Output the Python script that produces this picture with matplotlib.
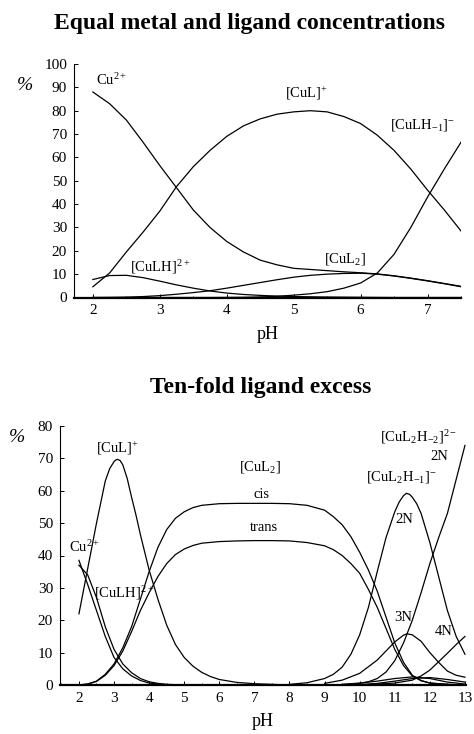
import numpy as np
import matplotlib
matplotlib.use("Agg")
import matplotlib.pyplot as plt
from matplotlib.ticker import MultipleLocator

plt.rcParams['font.family'] = ['Liberation Serif', 'DejaVu Serif']
plt.rcParams['mathtext.fontset'] = 'custom'
plt.rcParams['mathtext.rm'] = 'Liberation Serif'
plt.rcParams['mathtext.it'] = 'Liberation Serif:italic'

# ---------------- Equal metal and ligand concentrations ----------------
ph_top = [2.0, 2.25, 2.5, 2.75, 3.0, 3.25, 3.5, 3.75, 4.0, 4.25, 4.5, 4.75,
          5.0, 5.25, 5.5, 5.75, 6.0, 6.25, 6.5, 6.75, 7.0, 7.25, 7.5]
cu_top = [88, 83, 76, 66.5, 56.5, 47, 37.5, 30, 24, 19.5, 16, 14,
          12.5, 12, 11.5, 11, 10.6, 10.1, 9.3, 8.3, 7.2, 6, 4.8]
cul_top = [4.6, 10.5, 19.5, 28, 37, 47.5, 56, 63, 69, 73.5, 76.5, 78.5,
           79.5, 80, 79.5, 77.5, 74.5, 69.5, 63, 55, 46, 37.5, 28.5]
culh_top = [7.7, 9.4, 9.5, 8.5, 7, 5.4, 4, 2.8, 1.9, 1.3, 0.9, 0.6,
            0.4, 0.3, 0.2, 0.15, 0.1, 0.05, 0, 0, 0, 0, 0]
cul2_top = [0, 0.05, 0.15, 0.4, 0.8, 1.4, 2.1, 2.9, 4, 5.2, 6.4, 7.6,
            8.7, 9.5, 10, 10.3, 10.4, 10, 9.2, 8.2, 7.1, 5.9, 4.6]
culhm1_top = [0, 0, 0, 0, 0, 0, 0, 0, 0.05, 0.1, 0.25, 0.5,
              1, 1.6, 2.5, 4, 6.2, 10.5, 18.5, 30, 43, 55, 66.5]

top_labels = [
    (r'Cu$^{2+}$', 2.05, 93, 'left'),
    (r'[CuL]$^{+}$', 5.19, 87.5, 'center'),
    (r'[CuLH$_{-1}$]$^{-}$', 6.93, 74, 'center'),
    (r'[CuLH]$^{2+}$', 3.01, 13, 'center'),
    (r'[CuL$_{2}$]', 5.77, 16.7, 'center'),
]
top_xticks = [2, 3, 4, 5, 6, 7]
top_yticks = [0, 10, 20, 30, 40, 50, 60, 70, 80, 90, 100]

# ---------------- Ten-fold ligand excess ----------------
ph_cu = [2.0, 2.25, 2.5, 2.75, 3.0, 3.25, 3.5, 3.75, 4.0, 4.25, 4.5, 4.75]
cu_b = [38.5, 31, 23, 15, 8.5, 5, 2.8, 1.4, 0.6, 0.3, 0.1, 0]
culh_b = [37, 34, 27, 18, 11, 6.5, 3.8, 2, 1, 0.5, 0.2, 0.1]

ph_cul = [2.0, 2.25, 2.5, 2.75, 2.875, 3.0, 3.05, 3.1, 3.175, 3.25, 3.375,
          3.5, 3.625, 3.75, 4.0, 4.25, 4.5, 4.75, 5.0, 5.25, 5.5, 5.75,
          6.0, 6.5, 7.0, 7.5, 8.0]
cul_b = [22, 36, 50, 63, 66.8, 69, 69.5, 69.7, 69.3, 68, 63.8,
         58, 52.5, 46.5, 35.5, 26.5, 18.5, 12.5, 8.5, 5.8, 3.9, 2.6,
         1.7, 0.8, 0.4, 0.2, 0]

ph_cul2 = [2.0, 2.25, 2.5, 2.75, 3.0, 3.25, 3.5, 3.75, 4.0, 4.25, 4.5, 4.75,
           5.0, 5.25, 5.5, 6.0, 6.5, 7.0, 7.5, 8.0, 8.5, 9.0, 9.25, 9.5,
           9.75, 10.0, 10.25, 10.5, 10.75, 11.0, 11.25, 11.5, 11.75, 12.0,
           12.5, 13.0]
cis_b = [0, 0.3, 1.2, 3.3, 6.5, 11.5, 18, 26.5, 35, 42.5, 48, 51.5,
         53.5, 54.8, 55.5, 56, 56.1, 56.1, 56.1, 56, 55.5, 54, 52, 49.5,
         45.8, 41, 35.5, 29, 21, 13, 7, 3, 1.4, 0.6,
         0.2, 0]
trans_b = [0, 0.3, 1.1, 3, 6, 10.5, 16.5, 23, 28.5, 33.5, 37.5, 40.3,
           42, 43.1, 43.8, 44.3, 44.5, 44.6, 44.6, 44.5, 44, 43, 41.8, 40,
           37.5, 34.5, 29.5, 24, 17.5, 11, 6, 2.8, 1.3, 0.6,
           0.2, 0]

ph_h1 = [8.0, 8.5, 9.0, 9.25, 9.5, 9.75, 10.0, 10.25, 10.5, 10.75, 11.0,
         11.125, 11.25, 11.33, 11.42, 11.5, 11.625, 11.75, 12.0, 12.25,
         12.5, 12.75, 13.0]
h1_2n = [0.2, 0.7, 2, 3.3, 5.5, 9.5, 15.5, 24, 35, 45.5, 53.5,
         56.5, 58.5, 59.2, 58.9, 58, 56, 53, 44, 33.5,
         23, 15, 9.5]

ph_h2 = [9.5, 10.0, 10.25, 10.5, 10.75, 11.0, 11.25, 11.5, 11.75, 12.0,
         12.25, 12.5, 12.75, 13.0]
h2_2n = [0.1, 0.5, 1, 2, 4, 7.5, 13, 20, 28.5, 37.5,
         45.5, 53, 63.5, 74]

ph_3n = [9.0, 9.5, 10.0, 10.5, 10.75, 11.0, 11.25, 11.35, 11.5, 11.75,
         12.0, 12.25, 12.5, 12.75, 13.0]
h1_3n = [0.5, 1.5, 3.6, 7.7, 10.5, 13.3, 15.4, 15.8, 15.5, 13.5,
         10, 7, 4.3, 3, 2.4]

ph_4n = [10.0, 10.5, 11.0, 11.5, 11.75, 12.0, 12.25, 12.5, 12.75, 13.0]
h1_4n = [0.1, 0.3, 0.6, 1.5, 2.8, 4.6, 7.2, 9.8, 12.5, 15]

ph_minor = [9.5, 10.0, 10.5, 11.0, 11.5, 12.0, 12.5, 13.0]
h2_3n = [0.2, 0.6, 1.2, 2, 2.5, 2, 0.9, 0.3]
h2_4n = [0, 0.1, 0.5, 1.2, 2, 2.3, 1.7, 0.9]

bottom_labels = [
    (r'[CuL]$^{+}$', 3.11, 73.2, 'center'),
    (r'[CuL$_{2}$]', 7.16, 67.3, 'center'),
    ('cis', 7.2, 58.7, 'center'),
    ('trans', 7.27, 48.5, 'center'),
    (r'Cu$^{2+}$', 1.72, 42.6, 'left'),
    (r'[CuLH]$^{2+}$', 3.28, 28.4, 'center'),
    (r'[CuL$_{2}$H$_{-2}$]$^{2-}$', 11.69, 76.6, 'center'),
    ('2N', 12.28, 70.5, 'center'),
    (r'[CuL$_{2}$H$_{-1}$]$^{-}$', 11.2, 64.3, 'center'),
    ('2N', 11.26, 51, 'center'),
    ('3N', 11.23, 20.7, 'center'),
    ('4N', 12.4, 16.4, 'center'),
]
bottom_xticks = [2, 3, 4, 5, 6, 7, 8, 9, 10, 11, 12, 13]
bottom_yticks = [0, 10, 20, 30, 40, 50, 60, 70, 80]

W, H = 474, 734
fig = plt.figure(figsize=(W / 100, H / 100), dpi=100)

LW = 0.9
LABEL_FS = 10.5


def style_axes(ax, xticks, yticks):
    for side in ('top', 'right'):
        ax.spines[side].set_visible(False)
    ax.spines['left'].set_linewidth(0.8)
    ax.spines['bottom'].set_linewidth(1.6)
    ax.set_xticks(xticks)
    ax.set_yticks(yticks)
    ax.xaxis.set_minor_locator(MultipleLocator(0.5))
    ax.tick_params(which='major', direction='in', length=3, width=0.7,
                   labelsize=11, pad=5)
    ax.tick_params(which='minor', direction='in', length=1.5, width=0.6)
    ax.tick_params(axis='y', which='minor', left=False)


# top panel
ax1 = fig.add_axes([74 / W, 1 - 297.5 / H, (461 - 74) / W, (297.5 - 64) / H])
for series in (cu_top, cul_top, culh_top, cul2_top, culhm1_top):
    ax1.plot(ph_top, series, color='black', lw=LW)
ax1.set_xlim(1.718, 7.5)
ax1.set_ylim(0, 100)
style_axes(ax1, top_xticks, top_yticks)
for text, x, y, ha in top_labels:
    ax1.text(x, y, text, ha=ha, va='center', fontsize=LABEL_FS)
ax1.set_xlabel('pH', fontsize=13, labelpad=6)

# bottom panel
ax2 = fig.add_axes([60 / W, 1 - 685 / H, (466 - 60) / W, (685 - 426) / H])
ax2.plot(ph_cu, cu_b, color='black', lw=LW)
ax2.plot(ph_cu, culh_b, color='black', lw=LW)
ax2.plot(ph_cul, cul_b, color='black', lw=LW)
ax2.plot(ph_cul2, cis_b, color='black', lw=LW)
ax2.plot(ph_cul2, trans_b, color='black', lw=LW)
ax2.plot(ph_h1, h1_2n, color='black', lw=LW)
ax2.plot(ph_h2, h2_2n, color='black', lw=LW)
ax2.plot(ph_3n, h1_3n, color='black', lw=LW)
ax2.plot(ph_4n, h1_4n, color='black', lw=LW)
ax2.plot(ph_minor, h2_3n, color='black', lw=LW)
ax2.plot(ph_minor, h2_4n, color='black', lw=LW)
ax2.set_xlim(1.46, 13.03)
ax2.set_ylim(0, 80)
style_axes(ax2, bottom_xticks, bottom_yticks)
for text, x, y, ha in bottom_labels:
    ax2.text(x, y, text, ha=ha, va='center', fontsize=LABEL_FS)
ax2.set_xlabel('pH', fontsize=13, labelpad=6)

# panel titles and the % unit marks
fig.text(250 / W, 1 - 23 / H, 'Equal metal and ligand concentrations',
         ha='center', va='center', fontsize=17, fontweight='bold')
fig.text(261 / W, 1 - 388 / H, 'Ten-fold ligand excess',
         ha='center', va='center', fontsize=17, fontweight='bold')
fig.text(25 / W, 1 - 85 / H, '%', ha='center', va='center', fontsize=14,
         style='italic')
fig.text(17 / W, 1 - 437 / H, '%', ha='center', va='center', fontsize=14,
         style='italic')

fig.savefig('out.png', dpi=100)
